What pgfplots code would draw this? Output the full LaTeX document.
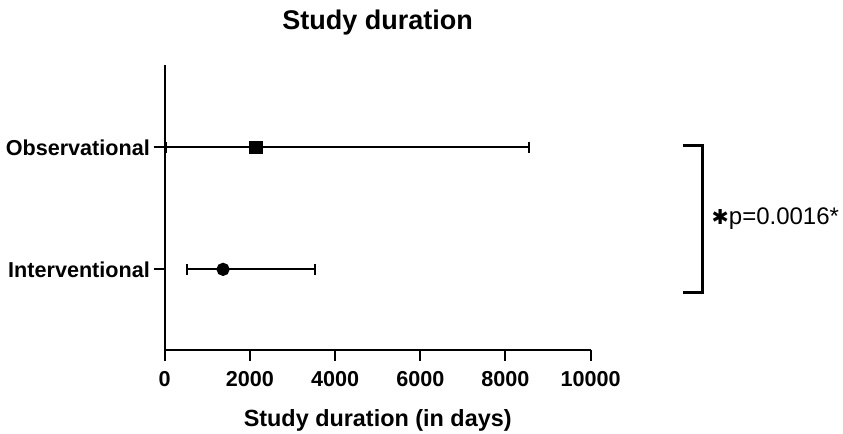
\documentclass[border=0pt]{standalone}
\usepackage{pgfplots}
\pgfplotsset{compat=1.18}
\usepackage{fontspec}
\setmainfont{Liberation Sans}
\newfontfamily\dejavu{DejaVu Sans}

\begin{document}
\begin{tikzpicture}
  % picture frame of 843x434 px at 0.5pt per px, axis box at origin
  \useasboundingbox (-82.35pt,-42pt) rectangle (339.15pt,175pt);
  \begin{axis}[
    at={(0,0)}, anchor=south west,
    scale only axis,
    width=213pt, height=142.5pt,
    xmin=0, xmax=10000,
    ymin=0.339, ymax=2.675,
    axis lines=left,
    axis line style={-, line width=1pt, black},
    tick style={line width=1pt, black},
    tick align=outside,
    major tick length=5.5pt,
    xtick={0,2000,4000,6000,8000,10000},
    scaled x ticks=false,
    ytick={1,2},
    yticklabels={Interventional, Observational},
    /pgf/number format/1000 sep={},
    /pgf/number format/assume math mode=true,
    ticklabel style={font=\bfseries\fontsize{10.8}{12}\selectfont},
    xticklabel style={yshift=-1.75pt},
    yticklabel style={xshift=1.6pt},
    every axis title shift=0pt,
    title={Study duration},
    title style={font=\bfseries\fontsize{13.5}{15}\selectfont, at={(rel axis cs:0.5,1)}, anchor=base, yshift=17.5pt},
    xlabel={Study duration (in days)},
    xlabel style={font=\bfseries\fontsize{11.7}{13}\selectfont, at={(rel axis cs:0.5,0)}, anchor=base, yshift=-38.3pt},
    clip=false,
  ]
    % observational: median with range
    \addplot[black, line width=1pt, mark=square*, mark size=2.9pt, only marks,
      error bars/.cd, x dir=both, x explicit,
      error bar style={line width=1pt, black},
      error mark options={rotate=90, line width=1pt, mark size=2.75pt, black}]
      coordinates {(2140,2) -= (2120,0) += (6420,0)};
    % interventional
    \addplot[black, line width=1pt, mark=*, mark size=2.8pt, only marks,
      error bars/.cd, x dir=both, x explicit,
      error bar style={line width=1pt, black},
      error mark options={rotate=90, line width=1pt, mark size=2.75pt, black}]
      coordinates {(1370,1) -= (837,0) += (2154,0)};

    % significance bracket
    \draw[line width=1.5pt] (axis cs:12167,2.019) -- (axis cs:12636,2.019)
      -- (axis cs:12636,0.808) -- (axis cs:12167,0.808);
    \node[anchor=west, inner sep=0pt, font=\fontsize{12}{14}\selectfont]
      at (axis cs:12830,1.42) {{\dejavu\fontsize{10.3}{12}\selectfont ✱}p=0.0016*};
  \end{axis}
\end{tikzpicture}
\end{document}
